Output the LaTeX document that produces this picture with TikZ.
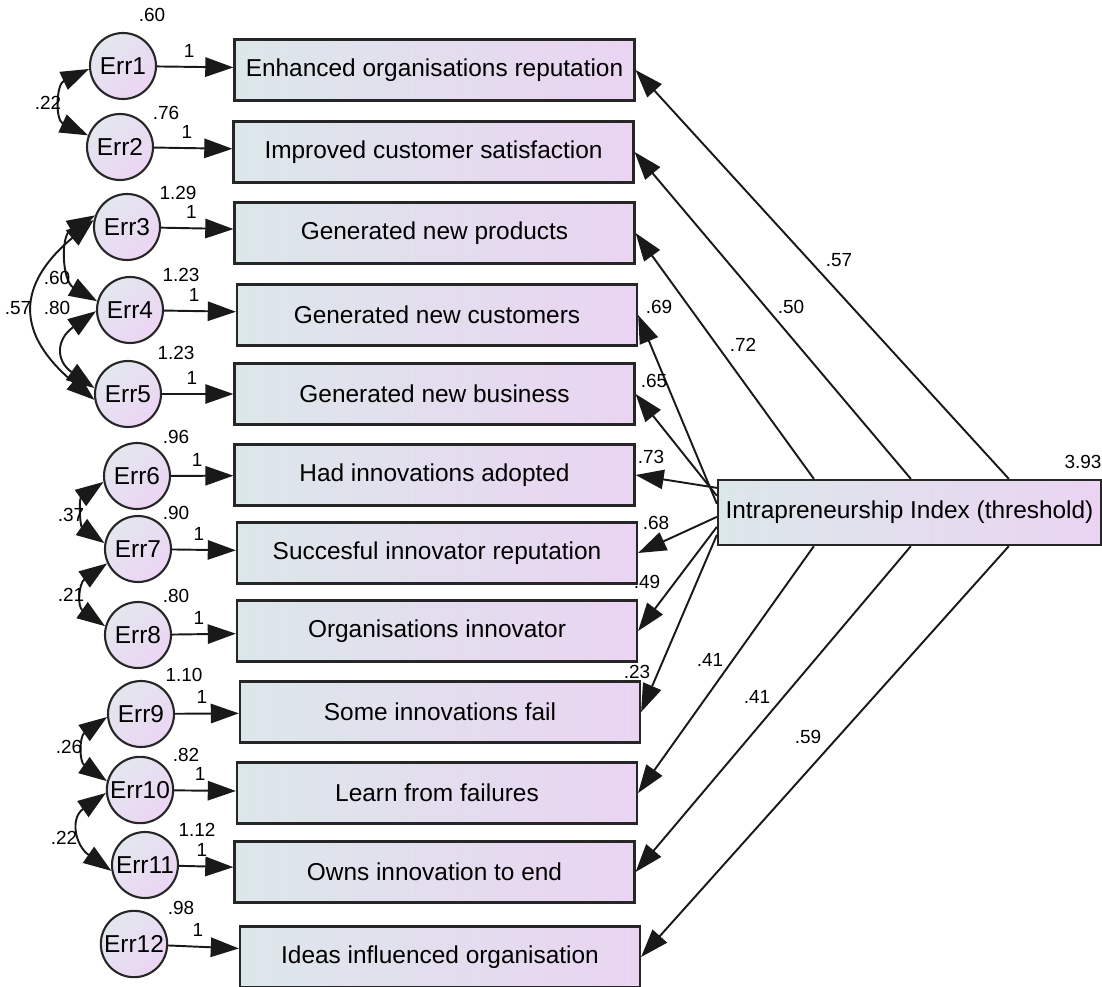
\documentclass[tikz,border=0pt]{standalone}
\usepackage{fontspec}
\setmainfont{Liberation Sans}
\usetikzlibrary{arrows.meta}

\definecolor{boxleft}{RGB}{220,231,234}
\definecolor{boxright}{RGB}{234,212,242}
\definecolor{circtop}{RGB}{226,231,238}
\definecolor{circbottom}{RGB}{236,213,244}

\begin{document}
\begin{tikzpicture}[x=0.02cm, y=-0.02cm,
        indicator/.style={rectangle, draw=black!85, line width=1.3pt, left color=boxleft, right color=boxright, minimum width=8cm, minimum height=1.22cm, inner sep=0pt, font=\fontsize{13.9}{16}\selectfont},
        residual/.style={circle, draw=black!85, line width=1.2pt, top color=circtop, bottom color=circbottom, shading angle=45, minimum size=1.32cm, inner sep=1pt, font=\fontsize{13.9}{16}\selectfont},
        load/.style={-{Triangle[length=16pt, width=11pt]}, line width=1.1pt, draw=black!90},
        cov/.style={{Triangle[length=16pt, width=11pt]}-{Triangle[length=16pt, width=11pt]}, line width=1.1pt, draw=black!90},
        est/.style={font=\fontsize{10.8}{12}\selectfont, inner sep=2pt}
    ]
        \useasboundingbox (0,0) rectangle (1102,987);

        % Observed indicators
        \node[indicator] (reputation) at (434.5,70) {Enhanced organisations reputation};
        \node[indicator] (satisfaction) at (433.5,152) {Improved customer satisfaction};
        \node[indicator] (products) at (434.5,233) {Generated new products};
        \node[indicator] (customers) at (437,315) {Generated new customers};
        \node[indicator] (business) at (434.5,394) {Generated new business};
        \node[indicator] (adopted) at (434.5,475) {Had innovations adopted};
        \node[indicator] (successful) at (437,553) {Succesful innovator reputation};
        \node[indicator] (innovator) at (437,631) {Organisations innovator};
        \node[indicator] (fail) at (440,712) {Some innovations fail};
        \node[indicator] (learn) at (437,793) {Learn from failures};
        \node[indicator] (owns) at (434.5,872) {Owns innovation to end};
        \node[indicator] (ideas) at (440,957) {Ideas influenced organisation};

        % Latent index
        \node[indicator, minimum width=7.66cm, minimum height=1.3cm] (index) at (909.5,512.5) {Intrapreneurship Index (threshold)};
        \node[est] (var0) at (1083,462) {3.93};

        % Error terms
        \node[residual] (err1) at (123,66) {Err1};
        \node[residual] (err2) at (120,147) {Err2};
        \node[residual] (err3) at (127,227) {Err3};
        \node[residual] (err4) at (130,310) {Err4};
        \node[residual] (err5) at (128,394) {Err5};
        \node[residual] (err6) at (137,476) {Err6};
        \node[residual] (err7) at (138,549) {Err7};
        \node[residual] (err8) at (138,635) {Err8};
        \node[residual] (err9) at (141,714) {Err9};
        \node[residual] (err10) at (140,790) {Err10};
        \node[residual] (err11) at (145,865) {Err11};
        \node[residual] (err12) at (134,944) {Err12};

        % Error variances
        \node[est] (var1) at (152,15) {.60};
        \node[est] (var2) at (166,113) {.76};
        \node[est] (var3) at (178,193) {1.29};
        \node[est] (var4) at (181,275) {1.23};
        \node[est] (var5) at (176,353) {1.23};
        \node[est] (var6) at (176,437) {.96};
        \node[est] (var7) at (176,513) {.90};
        \node[est] (var8) at (176,596) {.80};
        \node[est] (var9) at (184,675) {1.10};
        \node[est] (var10) at (186,755) {.82};
        \node[est] (var11) at (197,830) {1.12};
        \node[est] (var12) at (181,908) {.98};

        % Error -> indicator paths
        \draw[load] (err1) -- node[est, above=3pt, pos=0.42] (one1) {1} (reputation);
        \draw[load] (err2) -- node[est, above=3pt, pos=0.42] (one2) {1} (satisfaction);
        \draw[load] (err3) -- node[est, above=3pt, pos=0.42] (one3) {1} (products);
        \draw[load] (err4) -- node[est, above=3pt, pos=0.42] (one4) {1} (customers);
        \draw[load] (err5) -- node[est, above=3pt, pos=0.42] (one5) {1} (business);
        \draw[load] (err6) -- node[est, above=3pt, pos=0.42] (one6) {1} (adopted);
        \draw[load] (err7) -- node[est, above=3pt, pos=0.42] (one7) {1} (successful);
        \draw[load] (err8) -- node[est, above=3pt, pos=0.42] (one8) {1} (innovator);
        \draw[load] (err9) -- node[est, above=3pt, pos=0.42] (one9) {1} (fail);
        \draw[load] (err10) -- node[est, above=3pt, pos=0.42] (one10) {1} (learn);
        \draw[load] (err11) -- node[est, above=3pt, pos=0.42] (one11) {1} (owns);
        \draw[load] (err12) -- node[est, above=3pt, pos=0.42] (one12) {1} (ideas);

        % Covariances between errors
        \draw[cov] (err1.185) to[out=205, in=155, looseness=1.4] (err2.160);
        \draw[cov] (err3.160) to[out=210, in=150, looseness=1.2] (err4.165);
        \draw[cov] (err3.168) to[out=220, in=140, looseness=1.45] (err5.190);
        \draw[cov] (err4.182) to[out=215, in=145, looseness=1.6] (err5.170);
        \draw[cov] (err6.190) to[out=215, in=145, looseness=1.25] (err7.170);
        \draw[cov] (err7.205) to[out=215, in=145, looseness=1.4] (err8.165);
        \draw[cov] (err9.185) to[out=215, in=145, looseness=1.35] (err10.165);
        \draw[cov] (err10.185) to[out=215, in=145, looseness=1.45] (err11.190);
        \node[est] (cov12) at (48,103) {.22};
        \node[est] (cov34) at (57,278) {.60};
        \node[est] (cov35) at (18,308) {.57};
        \node[est] (cov45) at (57,308) {.80};
        \node[est] (cov67) at (71,515) {.37};
        \node[est] (cov78) at (71,595) {.21};
        \node[est] (cov910) at (69,747) {.26};
        \node[est] (cov1011) at (64,838) {.22};

        % Index -> indicator loadings
        \draw[load] ([xshift=5.84cm]index.north west) -- (reputation.east);
        \draw[load] ([xshift=3.88cm]index.north west) -- (satisfaction.east);
        \draw[load] ([xshift=1.94cm]index.north west) -- (products.east);
        \draw[load] ([yshift=-0.5cm]index.north west) -- (customers.east);
        \draw[load] ([yshift=-0.34cm]index.north west) -- (business.east);
        \draw[load] ([yshift=-0.18cm]index.north west) -- (adopted.east);
        \draw[load] ([yshift=-0.76cm]index.north west) -- (successful.east);
        \draw[load] ([yshift=-0.96cm]index.north west) -- (innovator.east);
        \draw[load] ([yshift=-1.12cm]index.north west) -- (fail.east);
        \draw[load] ([xshift=1.94cm]index.south west) -- (learn.east);
        \draw[load] ([xshift=3.88cm]index.south west) -- (owns.east);
        \draw[load] ([xshift=5.84cm]index.south west) -- (ideas.east);
        \node[est] (lam1) at (839,260) {.57};
        \node[est] (lam2) at (791,307) {.50};
        \node[est] (lam3) at (743,345) {.72};
        \node[est] (lam4) at (659,307) {.69};
        \node[est] (lam5) at (654,381) {.65};
        \node[est] (lam6) at (651,457) {.73};
        \node[est] (lam7) at (656,523) {.68};
        \node[est] (lam8) at (647,582) {.49};
        \node[est] (lam9) at (637,672) {.23};
        \node[est] (lam10) at (710,660) {.41};
        \node[est] (lam11) at (757,697) {.41};
        \node[est] (lam12) at (808,737) {.59};
    \end{tikzpicture}
\end{document}
